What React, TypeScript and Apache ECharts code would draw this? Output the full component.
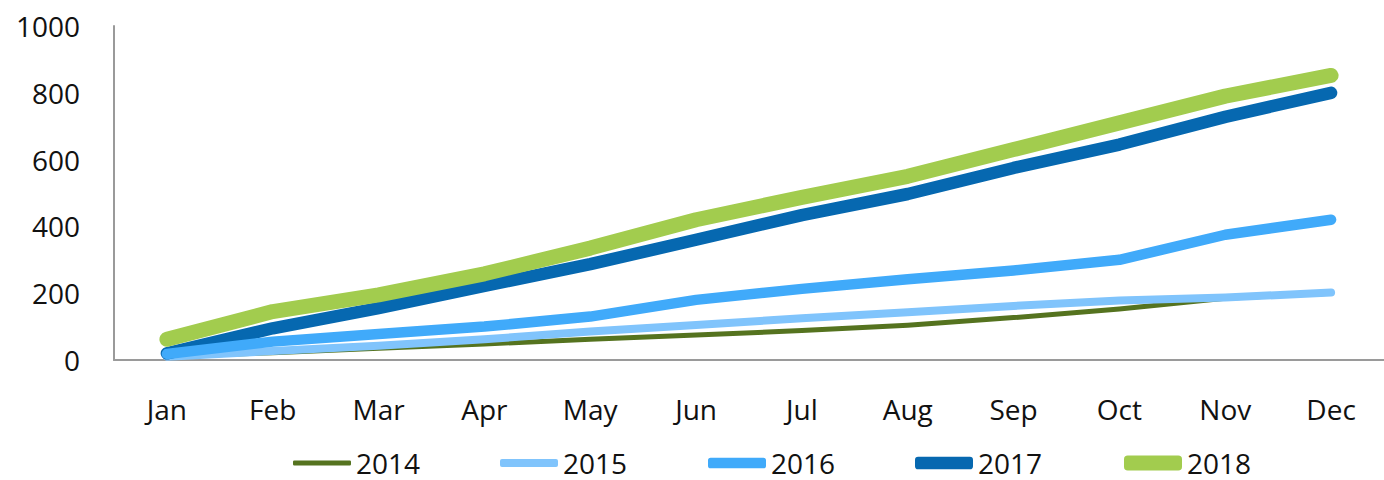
import React, { useEffect, useRef } from "react";
import * as echarts from "echarts";

const months = ["Jan", "Feb", "Mar", "Apr", "May", "Jun", "Jul", "Aug", "Sep", "Oct", "Nov", "Dec"];
const yearNames = ["2014", "2015", "2016", "2017", "2018"];
const v2014 = [10, 22, 35, 48, 62, 75, 88, 104, 127, 153, 185, 200];
const v2015 = [10, 27, 43, 62, 85, 105, 125, 143, 162, 178, 187, 202];
const v2016 = [18, 55, 78, 100, 130, 180, 213, 242, 268, 300, 375, 420];
const v2017 = [20, 95, 155, 222, 287, 360, 434, 497, 575, 645, 728, 800];
const v2018 = [62, 145, 195, 258, 335, 420, 487, 550, 630, 710, 790, 852];
const yTicks = [0, 200, 400, 600, 800, 1000];

const colors = ["#55731f", "#80c4fc", "#40aafa", "#0668b0", "#a2cc4e"];
const widths = [5, 8, 10.5, 12.5, 15];
const zOrder = [1, 2, 4, 3, 5];
const legendLeft = [293, 500, 708, 915, 1124];

export default function App() {
  const ref = useRef<HTMLDivElement>(null);
  useEffect(() => {
    const chart = echarts.init(ref.current!, undefined, { renderer: "svg" });
    const font = "'Open Sans', 'Noto Sans', sans-serif";
    const values = [v2014, v2015, v2016, v2017, v2018];
    chart.setOption({
      animation: false,
      textStyle: { fontFamily: font },
      grid: { left: 114, right: 0, top: 26, bottom: 120, containLabel: false },
      legend: yearNames.map((name, i) => ({
        data: [{ name, icon: "roundRect" }],
        left: legendLeft[i],
        top: 447,
        itemWidth: 58,
        itemHeight: widths[i],
        padding: 0,
        selectedMode: false,
        textStyle: { fontFamily: font, fontSize: 28, color: "#111", lineHeight: 32 },
      })),
      xAxis: {
        type: "category",
        data: months,
        boundaryGap: true,
        axisLine: { lineStyle: { color: "#9a9a9a", width: 2 } },
        axisTick: { show: false },
        axisLabel: { fontFamily: font, fontSize: 28, color: "#111", margin: 35 },
        splitLine: { show: false },
      },
      yAxis: {
        type: "value",
        min: yTicks[0],
        max: yTicks[yTicks.length - 1],
        interval: 200,
        axisLine: { show: true, lineStyle: { color: "#9a9a9a", width: 2 } },
        axisTick: { show: false },
        axisLabel: {
          fontFamily: font,
          fontSize: 28,
          color: "#111",
          margin: 34,
          formatter: (v: number) => String(v),
        },
        splitLine: { show: false },
      },
      series: yearNames.map((name, i) => ({
        name,
        type: "line",
        data: values[i],
        z: zOrder[i],
        symbol: "none",
        showSymbol: false,
        color: colors[i],
        lineStyle: { color: colors[i], width: widths[i], cap: "round", join: "round" },
        itemStyle: { color: colors[i] },
      })),
    });
    return () => chart.dispose();
  }, []);
  return (
    <div
      ref={ref}
      style={{ position: "fixed", left: 0, top: 0, width: 1384, height: 480, background: "#fff" }}
    />
  );
}
